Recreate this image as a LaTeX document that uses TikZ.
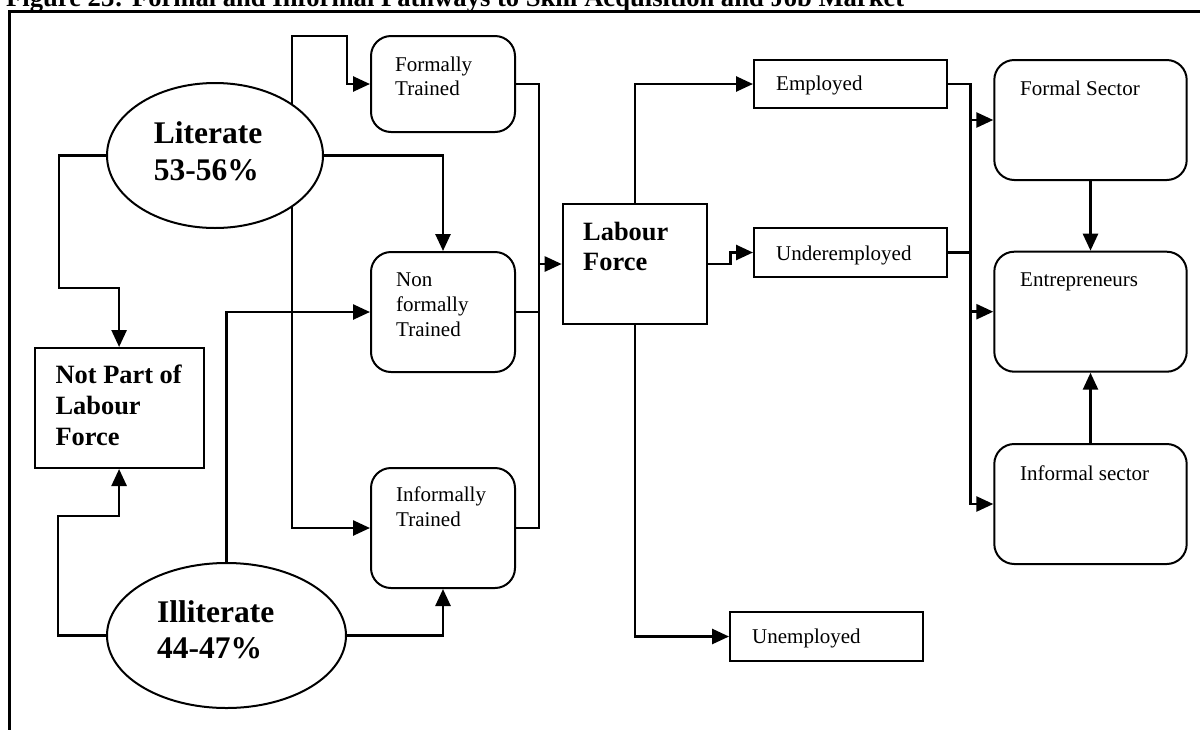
\documentclass[tikz,border=0pt]{standalone}
\usepackage{fontspec}
\setmainfont{Liberation Serif}
\usetikzlibrary{arrows.meta,shapes.geometric,calc}
\pgfdeclarelayer{bg}
\pgfsetlayers{bg,main}
\tikzset{
  conn/.style={line width=2.6pt, line join=miter},
  arr/.style={conn, -{Triangle[length=17pt,width=15pt]}},
  sqbox/.style={draw, line width=2pt, fill=white, inner sep=0pt},
  rbox/.style={sqbox, rounded corners=20pt},
  oval/.style={ellipse, draw, line width=2pt, fill=white, inner sep=0pt},
  txt/.style={anchor=base west, inner sep=0pt, font=\fontsize{21}{25}\selectfont},
  btxt/.style={anchor=base west, inner sep=0pt, font=\fontsize{26.4}{31}\selectfont\bfseries},
  ltxt/.style={anchor=base west, inner sep=0pt, font=\fontsize{31.5}{37}\selectfont\bfseries},
  frame/.style={line width=2.7pt, line join=miter},
}
\begin{document}
\begin{tikzpicture}[x=1pt,y=-1pt]
\useasboundingbox (0,0) rectangle (1200,729);
% title (cut by the top edge, as in the reference) and frame
\node[anchor=base west, inner sep=0pt, font=\fontsize{26.6}{30}\selectfont\bfseries] (title) at (6,6) {Figure 23: Formal and Informal Pathways to Skill Acquisition and Job Market};
\draw[frame] (9.6,745) -- (9.6,11.7) -- (1215,11.7);

% shapes
\node[oval, minimum width=216pt, minimum height=145pt] (literate) at (215,155.5) {};
\node[oval, minimum width=239pt, minimum height=145pt] (illiterate) at (226.5,635.5) {};
\node[sqbox, minimum width=169pt, minimum height=120pt] (notpart) at (119.1,408) {};
\node[rbox, minimum width=144pt, minimum height=96pt] (formally) at (443,84) {};
\node[rbox, minimum width=144pt, minimum height=120pt] (nonformal) at (443,312) {};
\node[rbox, minimum width=144pt, minimum height=120pt] (informal) at (443,528) {};
\node[sqbox, minimum width=144.6pt, minimum height=120pt] (labour) at (635,264) {};
\node[sqbox, minimum width=193pt, minimum height=48pt] (employed) at (850.5,84) {};
\node[sqbox, minimum width=193pt, minimum height=48.4pt] (underemp) at (850.5,252.5) {};
\node[sqbox, minimum width=193.3pt, minimum height=48.4pt] (unemp) at (826.7,636.5) {};
\node[rbox, minimum width=192.4pt, minimum height=120pt] (formalsec) at (1090.5,120) {};
\node[rbox, minimum width=192.4pt, minimum height=120pt] (entre) at (1090.5,311.7) {};
\node[rbox, minimum width=192.4pt, minimum height=120pt] (informalsec) at (1090.5,504) {};

% texts
\node[ltxt] (t1) at (153.6,143) {Literate};
\node[ltxt] (t2) at (153.6,180) {53-56\%};
\node[ltxt] (t3) at (157,622.7) {Illiterate};
\node[ltxt] (t4) at (157,658.3) {44-47\%};
\node[btxt] (t5) at (55.4,383) {Not Part of};
\node[btxt] (t6) at (55.4,414) {Labour};
\node[btxt] (t7) at (55.4,445) {Force};
\node[btxt] (t8) at (583,240) {Labour};
\node[btxt] (t9) at (583,270.7) {Force};
\node[txt] (t10) at (395,71.7) {Formally};
\node[txt] (t11) at (395,95.5) {Trained};
\node[txt] (t12) at (396,286.7) {Non};
\node[txt] (t13) at (396,311.7) {formally};
\node[txt] (t14) at (396,336.7) {Trained};
\node[txt] (t15) at (396,501.7) {Informally};
\node[txt] (t16) at (396,526.7) {Trained};
\node[txt] (t17) at (776,90.7) {Employed};
\node[txt] (t18) at (776,260) {Underemployed};
\node[txt] (t19) at (752,643) {Unemployed};
\node[txt] (t20) at (1020,95) {Formal Sector};
\node[txt] (t21) at (1020,286.7) {Entrepreneurs};
\node[txt] (t22) at (1020,480) {Informal sector};

% junction coordinates
\coordinate (c1) at (539,264);
\coordinate (c2) at (970.7,120);
\coordinate (c3) at (970.7,311.7);
\coordinate (c4) at (970.7,252.5);

\begin{pgfonlayer}{bg}
% from Literate
\draw[arr] ([xshift=77pt]literate.center) |- (347,36) |- (formally.west);
\draw[arr] ([xshift=77pt]literate.center) |- (informal.west);
\draw[arr] (literate.east) -| (nonformal.north);
\draw[arr] (literate.west) -| (59,288) -| (notpart.north);
% from Illiterate
\draw[arr] (illiterate.west) -| (58,516) -| (notpart.south);
\draw[arr] (illiterate.north) |- (nonformal.west);
\draw[arr] (illiterate.east) -| (informal.south);
% trained boxes to labour force
\draw[conn] (formally.east) -| (c1) |- (informal.east);
\draw[conn] (nonformal.east) -- (nonformal.east -| c1);
\draw[arr] (c1) -- (labour.west);
% labour force outputs
\draw[arr] (labour.north) |- (employed.west);
\draw[arr] (labour.east) -| (730.7,252.5) -- (underemp.west);
\draw[arr] (labour.south) |- (unemp.west);
% to sectors
\draw[arr] (employed.east) -| (970.7,504) -- (informalsec.west);
\draw[conn] (underemp.east) -- (c4);
\draw[arr] (c2) -- (formalsec.west);
\draw[arr] (c3) -- (entre.west);
\draw[arr] (formalsec.south) -- (entre.north);
\draw[arr] (informalsec.north) -- (entre.south);
\end{pgfonlayer}
\end{tikzpicture}
\end{document}
